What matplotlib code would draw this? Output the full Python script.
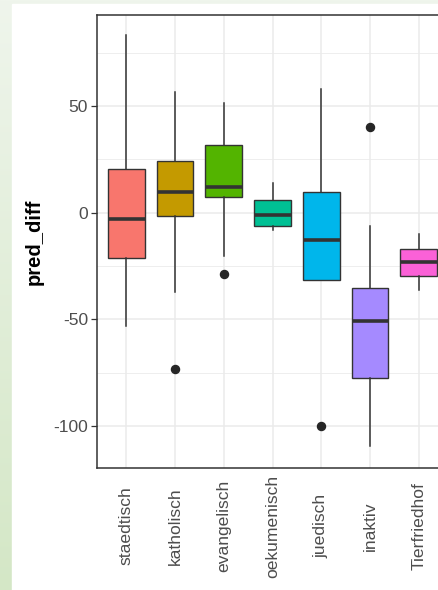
import matplotlib
matplotlib.use("Agg")
import matplotlib.pyplot as plt
import numpy as np
from matplotlib.colors import LinearSegmentedColormap

plt.rcParams["font.family"] = ["Liberation Sans", "DejaVu Sans"]

# data
categories = ["staedtisch", "katholisch", "evangelisch", "oekumenisch",
              "juedisch", "inaktiv", "Tierfriedhof"]
whis_lo = [-53.2, -37.0, -20.3, -8.2, -31.5, -109.5, -36.3]
q1 = [-21.2, -1.6, 7.4, -6.3, -31.5, -77.4, -29.8]
median = [-3.2, 9.9, 12.1, -1.0, -12.6, -50.9, -23.3]
q3 = [20.5, 24.0, 31.5, 5.9, 9.8, -35.5, -17.1]
whis_hi = [83.5, 56.5, 51.2, 14.0, 58.2, -6.2, -10.2]
outliers = [[], [-73.4], [-28.7], [], [-100.2], [40.2], []]
colors = ["#F8766D", "#C49A00", "#53B400", "#00C094",
          "#00B6EB", "#A58AFF", "#FB61D7"]
y_ticks = [-100, -50, 0, 50]
y_minor = [-75, -25, 25, 75]

W, H = 438, 590
fig = plt.figure(figsize=(W / 100, H / 100), dpi=100)

# greenish slide background on the left / top edge
bg = fig.add_axes([0, 0, 1, 1])
grad = np.linspace(0, 1, 256).reshape(-1, 1)
cm = LinearSegmentedColormap.from_list("bg", ["#EFF5EC", "#D4E7C6"])
bg.imshow(grad, aspect="auto", cmap=cm, extent=[0, 1, 0, 1], origin="upper")
bg.add_patch(plt.Rectangle((12 / W, 0), 1, 1 - 4 / H, color="white", zorder=2))
bg.set_xlim(0, 1)
bg.set_ylim(0, 1)
bg.axis("off")

left, right, top, bottom = 97, 448, 15, 468
ax = fig.add_axes([left / W, (H - bottom) / H, (right - left) / W, (bottom - top) / H])

pos = np.arange(1, len(categories) + 1)
stats = []
for i, c in enumerate(categories):
    stats.append(dict(label=c, whislo=whis_lo[i], q1=q1[i], med=median[i],
                      q3=q3[i], whishi=whis_hi[i], fliers=outliers[i]))

ink = "#333333"
bp = ax.bxp(stats, positions=pos, widths=0.75, patch_artist=True, showcaps=False,
            boxprops=dict(edgecolor=ink, linewidth=1.0),
            whiskerprops=dict(color=ink, linewidth=1.1),
            medianprops=dict(color=ink, linewidth=2.6, solid_capstyle="butt"),
            flierprops=dict(marker="o", markerfacecolor="#262626",
                            markeredgecolor="#262626", markersize=5.8))
for patch, col in zip(bp["boxes"], colors):
    patch.set_facecolor(col)
for art in bp["boxes"] + bp["medians"] + bp["whiskers"] + bp["fliers"]:
    art.set_zorder(3)

ax.set_xlim(0.4, len(categories) + 0.6)
ax.set_ylim(-119.7, 92.66)
ax.set_xticks(pos)
ax.set_xticklabels(categories, rotation=90, va="center", ha="center",
                   fontsize=12.6, color="#4D4D4D")
ax.set_yticks(y_ticks)
ax.set_yticklabels([str(v) for v in y_ticks], fontsize=12.6, color="#4D4D4D")
ax.set_yticks(y_minor, minor=True)
ax.tick_params(axis="x", length=0, pad=41.8)
ax.tick_params(axis="y", which="major", length=4, width=0.9, color=ink, pad=2.5)
ax.tick_params(axis="y", which="minor", length=0)

ax.grid(True, which="major", color="#EBEBEB", linewidth=1.1, zorder=0)
ax.grid(True, which="minor", axis="y", color="#EBEBEB", linewidth=0.6, zorder=0)
ax.set_axisbelow(True)
for s in ax.spines.values():
    s.set_color(ink)
    s.set_linewidth(1.1)

ax.set_ylabel("pred_diff", fontsize=14.5, fontweight="bold", color="black",
              labelpad=7)

fig.savefig("out.png", dpi=100)
